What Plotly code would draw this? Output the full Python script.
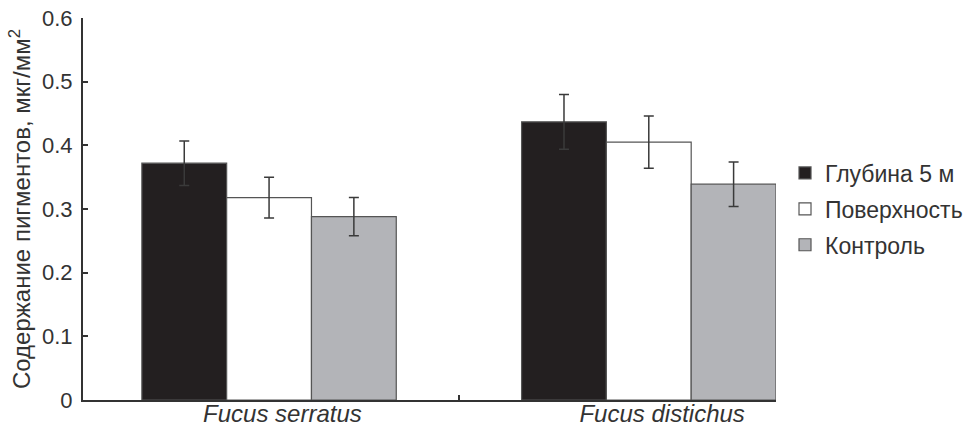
import plotly.graph_objects as go

categories = ["Fucus serratus", "Fucus distichus"]
series_names = ["Глубина 5 м", "Поверхность", "Контроль"]
depth5 = [0.372, 0.437]
depth5_err = [0.035, 0.043]
surface = [0.318, 0.405]
surface_err = [0.032, 0.041]
control = [0.288, 0.339]
control_err = [0.030, 0.035]

colors = ["#231f20", "#ffffff", "#b3b4b8"]
values = [depth5, surface, control]
errors = [depth5_err, surface_err, control_err]

FONT = "Liberation Sans, Arial, sans-serif"
x_labels = [f"\u00a0\u00a0\u00a0\u00a0<i>{c}</i>" for c in categories]

fig = go.Figure()
for i, (name, vals, errs, col) in enumerate(zip(series_names, values, errors, colors)):
    fig.add_trace(go.Bar(
        name=name, x=x_labels, y=vals, legendgroup=f"g{i}",
        marker=dict(color=col, line=dict(color="#555555", width=1.2)),
        error_y=dict(type="data", array=errs, visible=True,
                     color="#3a3a3a", thickness=1.5, width=5),
    ))

fig.update_layout(
    width=980, height=431,
    margin=dict(l=83, r=204, t=18, b=31),
    paper_bgcolor="white", plot_bgcolor="white",
    barmode="group", bargap=0.33, bargroupgap=0,
    font=dict(family=FONT, size=22, color="#333333"),
    legend=dict(x=1.013, xanchor="left", y=0.5, yanchor="middle",
                font=dict(size=23, color="#333333"), tracegroupgap=3,
                bgcolor="rgba(0,0,0,0)"),
    showlegend=True,
)
fig.update_xaxes(
    range=[-0.49, 1.335], showline=True, linecolor="#333333", linewidth=2,
    ticks="inside", tickson="boundaries", ticklen=5, tickwidth=2, tickcolor="#333333",
    showgrid=False, zeroline=False, tickfont=dict(size=24, color="#333333"),
    automargin=False, ticklabelstandoff=-9, ticklabeloverflow="allow",
)
fig.update_yaxes(
    range=[0, 0.6], dtick=0.1, tickformat=".1~f", showline=True, linecolor="#333333", linewidth=2,
    ticks="inside", ticklen=5, tickwidth=2, tickcolor="#333333",
    showgrid=False, zeroline=False, tickfont=dict(size=22, color="#333333"),
    ticklabelstandoff=4, automargin=False, ticklabeloverflow="allow",
    title=dict(text="Содержание пигментов, мкг/мм<sup>2</sup>", font=dict(size=24, color="#333333"), standoff=5),
)
fig.write_html(
    "out.html",
    config={"displayModeBar": False},
    post_script="document.body.style.margin='0';document.body.style.overflow='hidden';",
)
